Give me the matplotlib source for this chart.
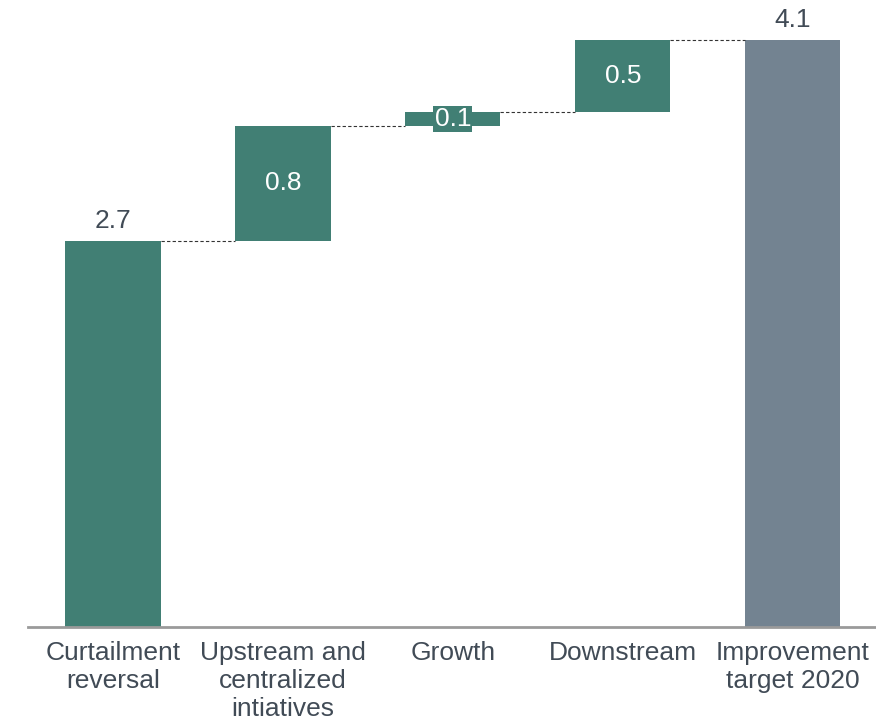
import matplotlib
matplotlib.use("Agg")
from matplotlib import pyplot as plt

categories = ["Curtailment\nreversal", "Upstream and\ncentralized\nintiatives", "Growth", "Downstream", "Improvement\ntarget 2020"]
values = [2.7, 0.8, 0.1, 0.5, 4.1]
is_total = [True, False, False, False, True]

GREEN = "#417f74"
GRAY = "#738391"
TEXT = "#414b56"
FS = 19

plt.rcParams["font.family"] = ["Liberation Sans", "DejaVu Sans"]

fig = plt.figure(figsize=(8.76, 7.2), dpi=100)
ax = fig.add_axes([0.032, 0.129, 0.97, 0.871])

width = 0.56
running = 0.0
tops = []
for i, (v, tot) in enumerate(zip(values, is_total)):
    if tot:
        bottom = 0.0
        color = GREEN if i == 0 else GRAY
        running = v
    else:
        bottom = running
        color = GREEN
        running = running + v
    ax.bar(i, v, width=width, bottom=bottom, color=color)
    tops.append(bottom + v)
    if tot:
        ax.text(i, bottom + v + 0.055, f"{v:.1f}", ha="center", va="bottom", fontsize=FS, color=TEXT)
    elif v < 0.2:
        ax.text(i, bottom + v / 2, f"{v:.1f}", ha="center", va="center", fontsize=FS, color="white",
                bbox=dict(facecolor=GREEN, edgecolor="none", pad=1.0))
    else:
        ax.text(i, bottom + v / 2, f"{v:.1f}", ha="center", va="center", fontsize=FS, color="white")

# connectors
for i in range(len(values) - 1):
    ax.plot([i + width / 2, i + 1 - width / 2], [tops[i], tops[i]], color="#333333",
            linestyle=(0, (3, 2)), linewidth=0.8)

ax.set_xlim(-0.5, 4.5)
ax.set_ylim(0, 4.38)
ax.set_xticks(range(len(categories)))
ax.set_xticklabels(categories, fontsize=FS, color=TEXT, linespacing=1.2)
ax.tick_params(axis="x", length=0, pad=10)
ax.set_yticks([])
for s in ["top", "right", "left"]:
    ax.spines[s].set_visible(False)
ax.spines["bottom"].set_color("#9a9a9a")
ax.spines["bottom"].set_linewidth(2)

fig.savefig("out.png", dpi=100)
